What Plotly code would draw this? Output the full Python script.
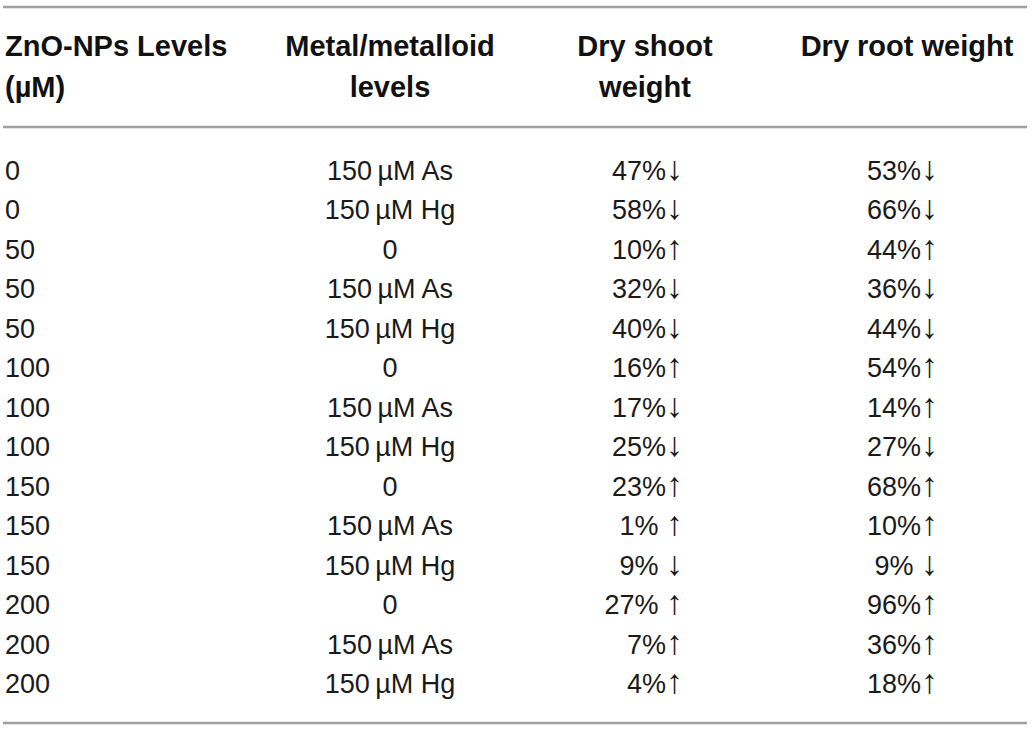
import plotly.graph_objects as go

# dati della tabella
zno_levels = ["0", "0", "50", "50", "50", "100", "100", "100", "150", "150", "150", "200", "200", "200"]
metal_levels = ["150\u2009µM As", "150\u2009µM Hg", "0", "150\u2009µM As", "150\u2009µM Hg",
                "0", "150\u2009µM As", "150\u2009µM Hg", "0", "150\u2009µM As", "150\u2009µM Hg",
                "0", "150\u2009µM As", "150\u2009µM Hg"]
shoot_weight = ["47%↓", "58%↓", "10%↑", "32%↓", "40%↓", "16%↑", "17%↓", "25%↓",
                "23%↑", "1% ↑", "9% ↓", "27% ↑", "7%↑", "4%↑"]
root_weight = ["53%↓", "66%↓", "44%↑", "36%↓", "44%↓", "54%↑", "14%↑", "27%↓",
               "68%↑", "10%↑", "9% ↓", "96%↑", "36%↑", "18%↑"]
header_line1 = ["ZnO-NPs Levels", "Metal/metalloid", "Dry shoot", "Dry root weight"]
header_line2 = ["(µM)", "levels", "weight", ""]

W, H = 1034, 730
row_top = 173
row_step = 39.5
rows_y = [row_top + i * row_step for i in range(len(zno_levels))]

body_font = dict(family="Liberation Sans, Arial, sans-serif", size=27, color="#1a1a1a")
head_font = dict(family="Liberation Sans, Arial, sans-serif", size=29, color="#111111", weight="bold")


def big_arrows(s):
    # frecce un po' piu' alte, come nell'originale
    for a in ["↑", "↓"]:
        s = s.replace(a, '<span style="font-size:34px">' + a + "</span>")
    return s


fig = go.Figure()

# colonne del corpo: (valori, x, posizione testo)
columns = [
    (zno_levels, 5, "middle right"),
    (metal_levels, 390, "middle center"),
    ([big_arrows(v) for v in shoot_weight], 683, "middle left"),
    ([big_arrows(v) for v in root_weight], 938, "middle left"),
]
for values, x, pos in columns:
    fig.add_trace(go.Scatter(
        x=[x] * len(values), y=rows_y, text=values, mode="text",
        textposition=pos, textfont=body_font, hoverinfo="skip", showlegend=False
    ))

# intestazioni su due righe
header_x = [5, 390, 645, 907]
header_pos = ["middle right", "middle center", "middle center", "middle center"]
for i in range(len(header_x)):
    fig.add_trace(go.Scatter(
        x=[header_x[i], header_x[i]], y=[49, 90],
        text=[header_line1[i], header_line2[i]], mode="text",
        textposition=header_pos[i], textfont=head_font, hoverinfo="skip", showlegend=False
    ))

# linee orizzontali
for y in [7, 127, 723]:
    fig.add_shape(type="line", x0=3, x1=1027, y0=y, y1=y,
                  line=dict(color="#a0a0a0", width=2.5))

fig.update_layout(
    width=W, height=H,
    margin=dict(l=0, r=0, t=0, b=0),
    paper_bgcolor="white", plot_bgcolor="white",
    xaxis=dict(range=[0, W], visible=False, fixedrange=True),
    yaxis=dict(range=[H, 0], visible=False, fixedrange=True),
)

fig.write_html("out.html", config={"displayModeBar": False},
               post_script="document.body.style.margin='0';")
